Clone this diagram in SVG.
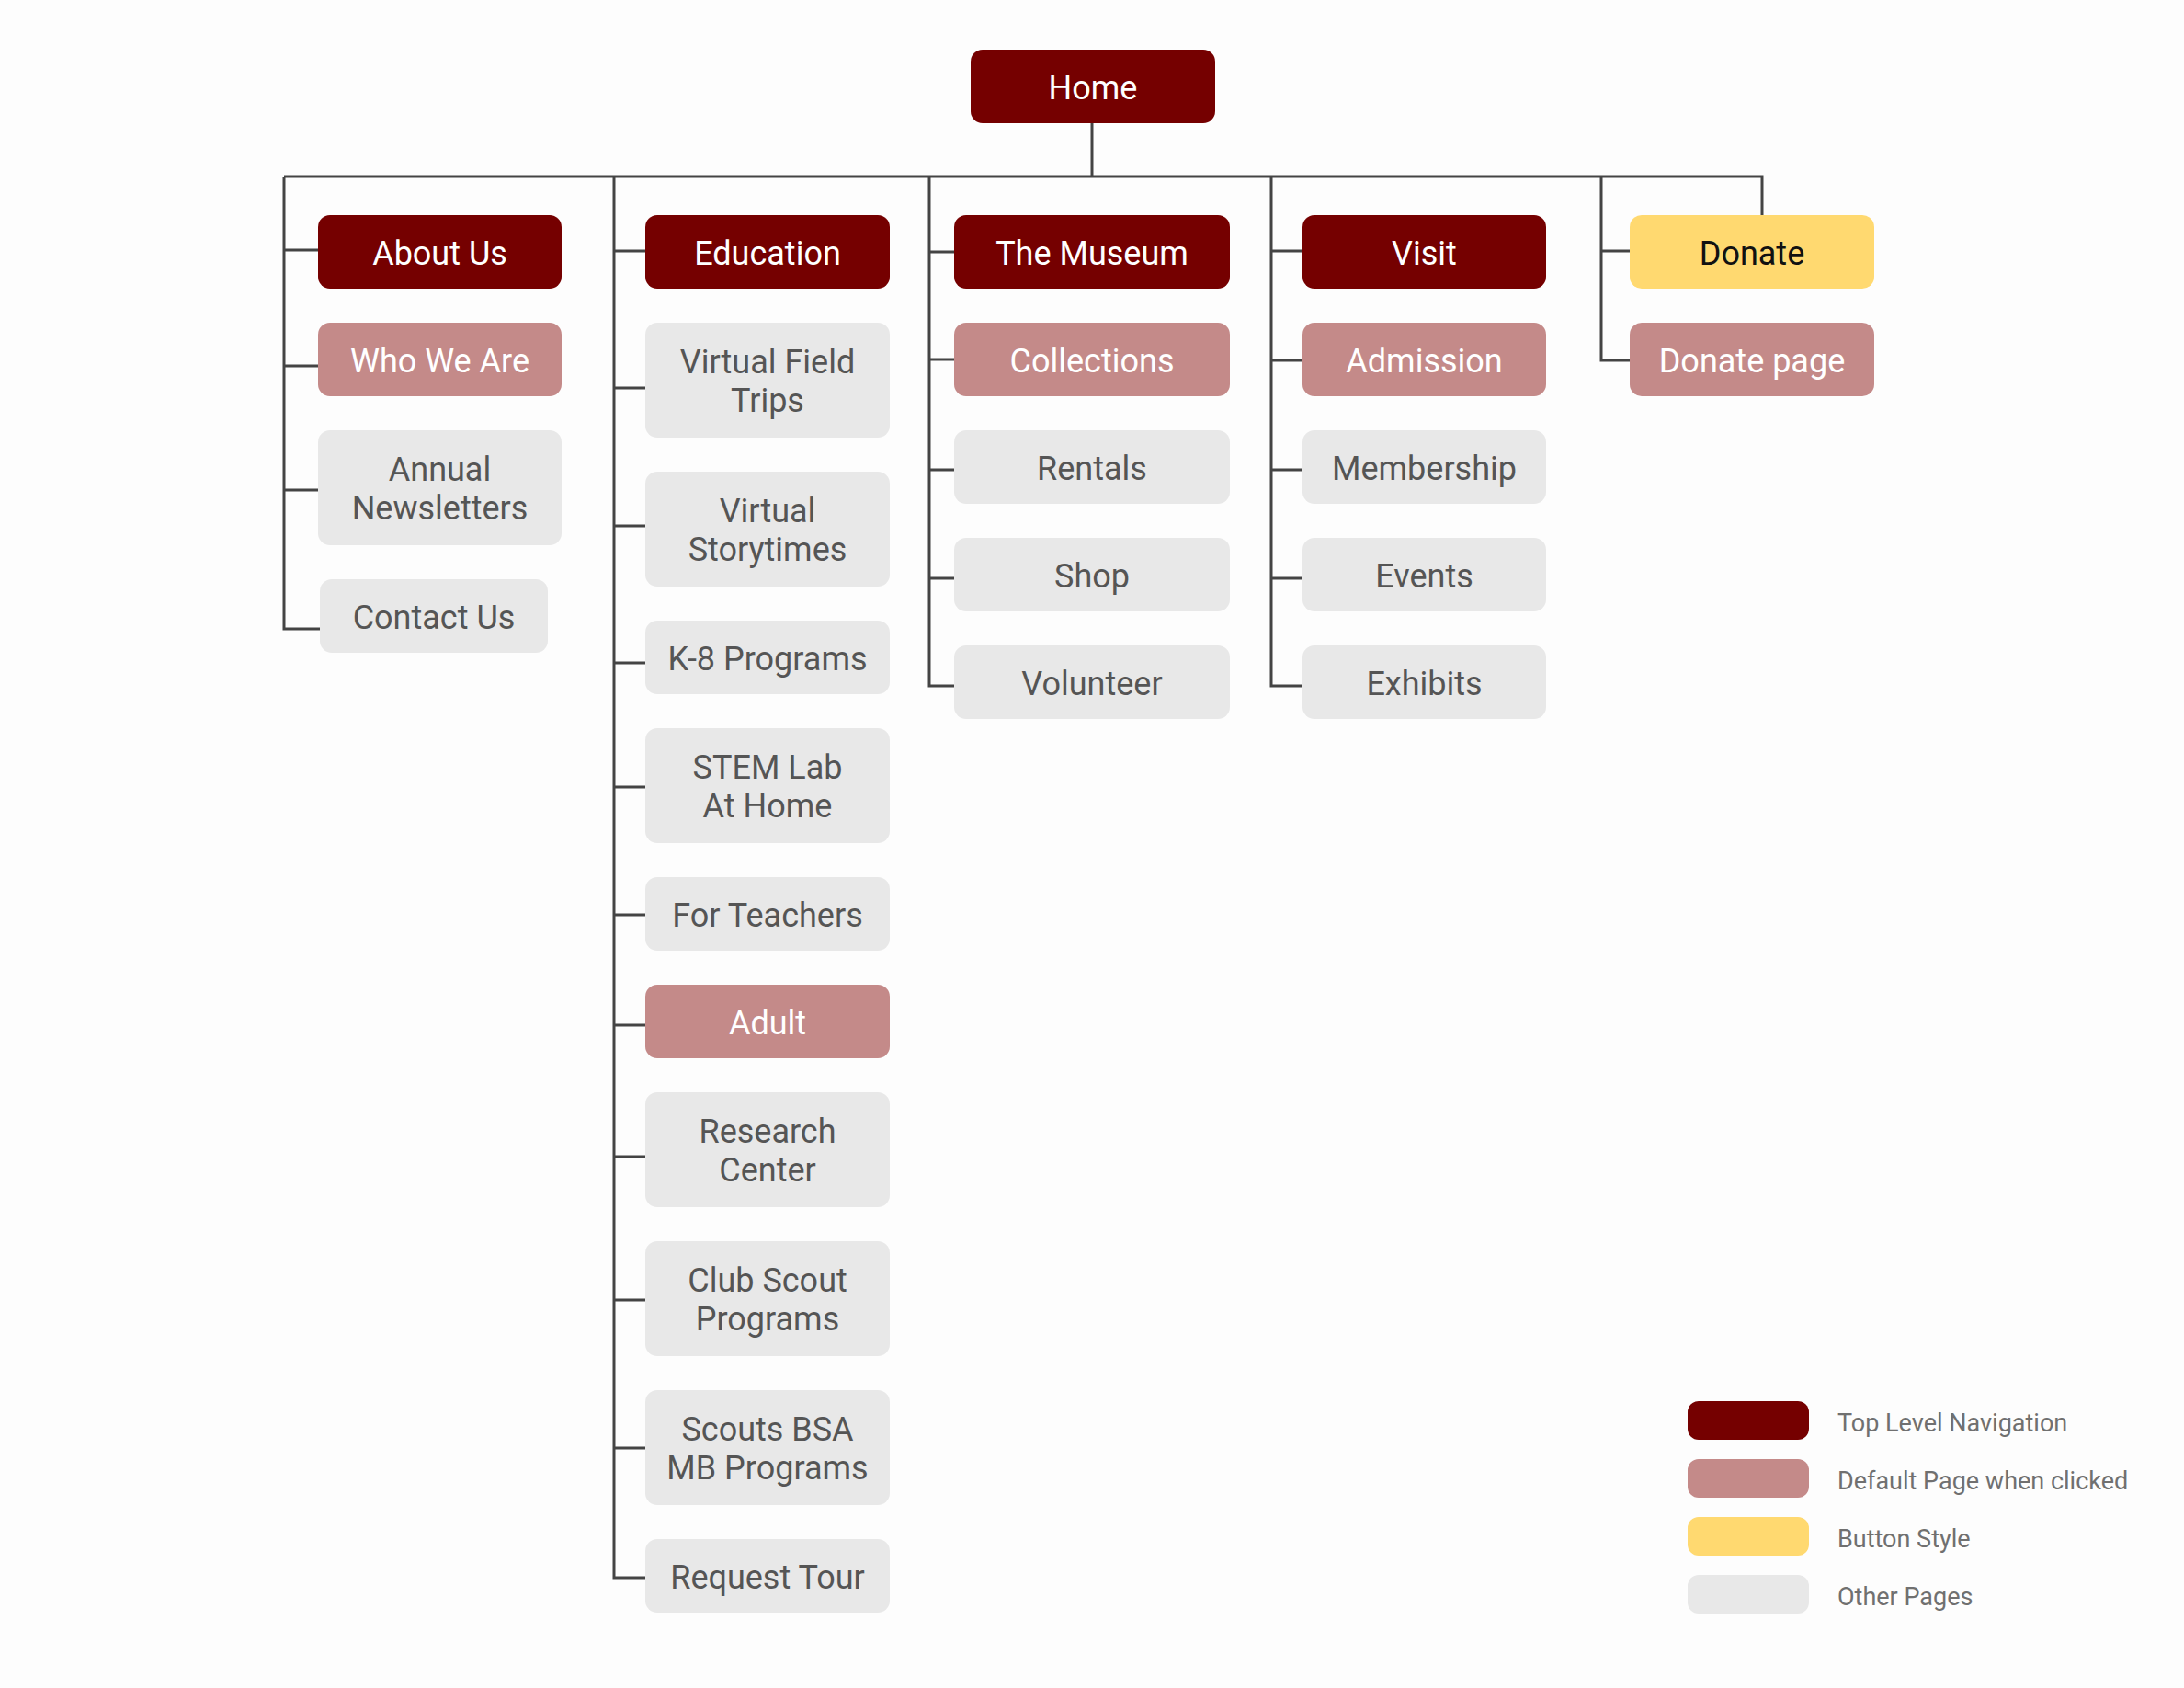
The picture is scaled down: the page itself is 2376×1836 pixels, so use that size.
<svg xmlns="http://www.w3.org/2000/svg" width="2376" height="1836" viewBox="0 0 2376 1836">
  <style>
    .box { stroke: none; }
    .top { fill: #750000; }
    .def { fill: #C48A89; }
    .btn { fill: #FFD970; }
    .oth { fill: #E8E8E8; }
    text { font-family: Roboto, "Liberation Sans", Arial, sans-serif; }
    .lbl { font-size: 36px; text-anchor: middle; }
    .lt { fill: #FFFFFF; }
    .ld { fill: #555555; }
    .lb { fill: #111111; }
    .leg { font-size: 27px; fill: #707070; }
    .wire { fill: none; stroke: #444444; stroke-width: 3; stroke-linejoin: miter; }
  </style>
  <rect width="2376" height="1836" fill="#FDFDFD"/>

  <!-- connectors -->
  <g id="connectors" class="wire">
    <path d="M1188,134 V192"/>
    <path d="M309,192 H1917 V234"/>
    <path d="M309,192 V684 H348 M309,272 H346 M309,398 H346 M309,533 H346"/>
    <path d="M668,192 V1716 H702 M668,273 H702 M668,422 H702 M668,572 H702 M668,721 H702 M668,856 H702 M668,995 H702 M668,1115 H702 M668,1258 H702 M668,1414 H702 M668,1575 H702"/>
    <path d="M1011,192 V746 H1038 M1011,274 H1038 M1011,391 H1038 M1011,511 H1038 M1011,629 H1038"/>
    <path d="M1383,192 V746 H1417 M1383,273 H1417 M1383,392 H1417 M1383,511 H1417 M1383,629 H1417"/>
    <path d="M1742,192 V392 H1773 M1742,273 H1773"/>
  </g>

  <!-- root -->
  <g id="home"><rect class="box top" x="1056" y="54" width="266" height="80" rx="13"/><text class="lbl lt" x="1189" y="107.5">Home</text></g>

  <!-- About Us column -->
  <g id="about-us"><rect class="box top" x="346" y="234" width="265" height="80" rx="13"/><text class="lbl lt" x="478.5" y="287.5">About Us</text></g>
  <g id="who-we-are"><rect class="box def" x="346" y="351" width="265" height="80" rx="13"/><text class="lbl lt" x="478.5" y="404.5">Who We Are</text></g>
  <g id="annual-newsletters"><rect class="box oth" x="346" y="468" width="265" height="125" rx="13"/><text class="lbl ld" x="478.5" y="523">Annual</text><text class="lbl ld" x="478.5" y="565">Newsletters</text></g>
  <g id="contact-us"><rect class="box oth" x="348" y="630" width="248" height="80" rx="13"/><text class="lbl ld" x="472" y="683.5">Contact Us</text></g>

  <!-- Education column -->
  <g id="education"><rect class="box top" x="702" y="234" width="266" height="80" rx="13"/><text class="lbl lt" x="835" y="287.5">Education</text></g>
  <g id="virtual-field-trips"><rect class="box oth" x="702" y="351" width="266" height="125" rx="13"/><text class="lbl ld" x="835" y="406">Virtual Field</text><text class="lbl ld" x="835" y="448">Trips</text></g>
  <g id="virtual-storytimes"><rect class="box oth" x="702" y="513" width="266" height="125" rx="13"/><text class="lbl ld" x="835" y="568">Virtual</text><text class="lbl ld" x="835" y="610">Storytimes</text></g>
  <g id="k8-programs"><rect class="box oth" x="702" y="675" width="266" height="80" rx="13"/><text class="lbl ld" x="835" y="728.5">K-8 Programs</text></g>
  <g id="stem-lab"><rect class="box oth" x="702" y="792" width="266" height="125" rx="13"/><text class="lbl ld" x="835" y="847">STEM Lab</text><text class="lbl ld" x="835" y="889">At Home</text></g>
  <g id="for-teachers"><rect class="box oth" x="702" y="954" width="266" height="80" rx="13"/><text class="lbl ld" x="835" y="1007.5">For Teachers</text></g>
  <g id="adult"><rect class="box def" x="702" y="1071" width="266" height="80" rx="13"/><text class="lbl lt" x="835" y="1124.5">Adult</text></g>
  <g id="research-center"><rect class="box oth" x="702" y="1188" width="266" height="125" rx="13"/><text class="lbl ld" x="835" y="1243">Research</text><text class="lbl ld" x="835" y="1285">Center</text></g>
  <g id="club-scout"><rect class="box oth" x="702" y="1350" width="266" height="125" rx="13"/><text class="lbl ld" x="835" y="1405">Club Scout</text><text class="lbl ld" x="835" y="1447">Programs</text></g>
  <g id="scouts-bsa"><rect class="box oth" x="702" y="1512" width="266" height="125" rx="13"/><text class="lbl ld" x="835" y="1567">Scouts BSA</text><text class="lbl ld" x="835" y="1609">MB Programs</text></g>
  <g id="request-tour"><rect class="box oth" x="702" y="1674" width="266" height="80" rx="13"/><text class="lbl ld" x="835" y="1727.5">Request Tour</text></g>

  <!-- The Museum column -->
  <g id="the-museum"><rect class="box top" x="1038" y="234" width="300" height="80" rx="13"/><text class="lbl lt" x="1188" y="287.5">The Museum</text></g>
  <g id="collections"><rect class="box def" x="1038" y="351" width="300" height="80" rx="13"/><text class="lbl lt" x="1188" y="404.5">Collections</text></g>
  <g id="rentals"><rect class="box oth" x="1038" y="468" width="300" height="80" rx="13"/><text class="lbl ld" x="1188" y="521.5">Rentals</text></g>
  <g id="shop"><rect class="box oth" x="1038" y="585" width="300" height="80" rx="13"/><text class="lbl ld" x="1188" y="638.5">Shop</text></g>
  <g id="volunteer"><rect class="box oth" x="1038" y="702" width="300" height="80" rx="13"/><text class="lbl ld" x="1188" y="755.5">Volunteer</text></g>

  <!-- Visit column -->
  <g id="visit"><rect class="box top" x="1417" y="234" width="265" height="80" rx="13"/><text class="lbl lt" x="1549.5" y="287.5">Visit</text></g>
  <g id="admission"><rect class="box def" x="1417" y="351" width="265" height="80" rx="13"/><text class="lbl lt" x="1549.5" y="404.5">Admission</text></g>
  <g id="membership"><rect class="box oth" x="1417" y="468" width="265" height="80" rx="13"/><text class="lbl ld" x="1549.5" y="521.5">Membership</text></g>
  <g id="events"><rect class="box oth" x="1417" y="585" width="265" height="80" rx="13"/><text class="lbl ld" x="1549.5" y="638.5">Events</text></g>
  <g id="exhibits"><rect class="box oth" x="1417" y="702" width="265" height="80" rx="13"/><text class="lbl ld" x="1549.5" y="755.5">Exhibits</text></g>

  <!-- Donate column -->
  <g id="donate"><rect class="box btn" x="1773" y="234" width="266" height="80" rx="13"/><text class="lbl lb" x="1906" y="287.5">Donate</text></g>
  <g id="donate-page"><rect class="box def" x="1773" y="351" width="266" height="80" rx="13"/><text class="lbl lt" x="1906" y="404.5">Donate page</text></g>

  <!-- key -->
  <g id="legend">
    <rect class="box top" x="1836" y="1524" width="132" height="42" rx="12"/>
    <text class="leg" x="1999" y="1557">Top Level Navigation</text>
    <rect class="box def" x="1836" y="1587" width="132" height="42" rx="12"/>
    <text class="leg" x="1999" y="1620">Default Page when clicked</text>
    <rect class="box btn" x="1836" y="1650" width="132" height="42" rx="12"/>
    <text class="leg" x="1999" y="1683">Button Style</text>
    <rect class="box oth" x="1836" y="1713" width="132" height="42" rx="12"/>
    <text class="leg" x="1999" y="1746">Other Pages</text>
  </g>
</svg>
